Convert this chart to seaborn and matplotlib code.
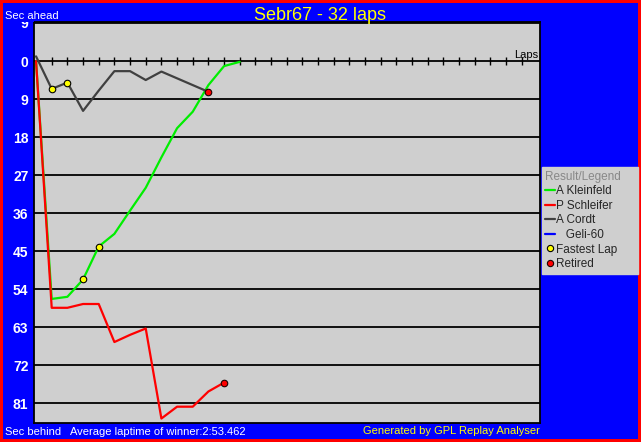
import numpy as np
import pandas as pd
import matplotlib
matplotlib.use("Agg")
import matplotlib.pyplot as plt
import seaborn as sns
from matplotlib.lines import Line2D
from matplotlib.patches import Rectangle
from matplotlib.transforms import blended_transform_factory

# ---------------- data ----------------
title = "Sebr67 - 32 laps"
drivers = ["A Kleinfeld", "P Schleifer", "A Cordt"]
colors = ["#00ee00", "#ff0000", "#404040"]
kleinfeld = [0, 56.3, 55.8, 51.7, 43.9, 40.9, 35.4, 30.0, 22.8, 15.9, 12.0, 5.7, 1.2, 0.2]
schleifer = [0, 58.4, 58.4, 57.5, 57.5, 66.5, 64.8, 63.3, 84.6, 81.8, 81.8, 78.2, 76.1]
cordt = [-1.1, 6.6, 5.1, 11.8, 7.0, 2.4, 2.4, 4.5, 2.5, 4.1, 5.7, 7.3]
fastest_driver = ["A Cordt", "A Cordt", "A Kleinfeld", "A Kleinfeld"]
fastest_lap = [1, 2, 3, 4]
retired_driver = ["A Cordt", "P Schleifer"]
retired_lap = [11, 12]
lap_ticks = list(range(1, 32))
y_ticks = [-9, 0, 9, 18, 27, 36, 45, 54, 63, 72, 81]
y_tick_labels = ["9", "0", "9", "18", "27", "36", "45", "54", "63", "72", "81"]
legend_extra = "   Geli-60"
avg_text = "Average laptime of winner:2:53.462"

series = {"A Kleinfeld": kleinfeld, "P Schleifer": schleifer, "A Cordt": cordt}
rows = []
for d in drivers:
    for lap, v in enumerate(series[d]):
        rows.append({"driver": d, "lap": lap, "sec": v})
df = pd.DataFrame(rows)
fast_df = pd.DataFrame({"driver": fastest_driver, "lap": fastest_lap})
fast_df = fast_df.merge(df, on=["driver", "lap"])
ret_df = pd.DataFrame({"driver": retired_driver, "lap": retired_lap})
ret_df = ret_df.merge(df, on=["driver", "lap"])

# ---------------- style ----------------
sns.set_style("white")
plt.rcParams["font.family"] = ["Liberation Sans", "DejaVu Sans"]

BLUE = "#0000ff"
PLOT_BG = "#cfcfcf"
W, H = 641, 442

fig = plt.figure(figsize=(W / 100, H / 100), dpi=100, facecolor=BLUE,
                 edgecolor="#ff0000", linewidth=3)
ax_top = 1 - 22 / H
ax = fig.add_axes([34 / W, 19 / H, 506 / W, 401 / H])
ax.set_facecolor(PLOT_BG)

palette = dict(zip(drivers, colors))
sns.lineplot(data=df, x="lap", y="sec", hue="driver", hue_order=drivers,
             palette=palette, estimator=None, sort=False, legend=False,
             linewidth=1.6, ax=ax, zorder=3)
sns.scatterplot(data=fast_df, x="lap", y="sec", color="#ffff00",
                edgecolor="black", linewidth=0.8, s=22, legend=False,
                ax=ax, zorder=5)
sns.scatterplot(data=ret_df, x="lap", y="sec", color="#ff0000",
                edgecolor="#200000", linewidth=0.8, s=22, legend=False,
                ax=ax, zorder=5)

ylo, yhi = 85.66, -9.23
ax.set_ylim(ylo, yhi)
ax.set_xlim(-0.13, 32.16)
ax.set_xlabel("")
ax.set_ylabel("")
ax.set_xticks([])
ax.set_yticks(y_ticks)
ax.set_yticklabels(y_tick_labels)
ax.tick_params(axis="y", length=0, pad=4, labelsize=10, labelcolor="white")
for lbl in ax.get_yticklabels():
    lbl.set_fontweight("bold")
ax.grid(axis="y", color="black", linewidth=1.3)
ax.grid(axis="x", visible=False)
ax.set_axisbelow(True)
for sp in ax.spines.values():
    sp.set_visible(True)
    sp.set_color("black")
    sp.set_linewidth(1.3)

# hide the upper half of the top "9" label (above the plot's top edge)
cover = Rectangle((3 / W, ax_top), 30.5 / W, 1 - ax_top - 3 / H,
                  transform=fig.transFigure, facecolor=BLUE,
                  edgecolor="none", zorder=2)
fig.add_artist(cover)

# lap ticks on zero line
loc0 = (ylo - 0) / (ylo - yhi)
secax = ax.secondary_xaxis(loc0)
secax.set_xticks(lap_ticks)
secax.tick_params(axis="x", direction="inout", length=6, width=1.0, color="black",
                  labelbottom=False, labeltop=False)
for sp in secax.spines.values():
    sp.set_visible(False)

ax.annotate("Laps", xy=(1, 0), xycoords=blended_transform_factory(ax.transAxes, ax.transData),
            xytext=(-1, 2), textcoords="offset points", ha="right", va="baseline",
            fontsize=8, color="black")

# texts on figure
fig.text(0.5, 1 - 20.5 / H, title, ha="center", va="baseline", fontsize=13, color="#ffff00")
fig.text(5 / W, 1 - 19.3 / H, "Sec ahead", ha="left", va="baseline", fontsize=8,
         color="white", zorder=4)
fig.text(5 / W, 1 - 435 / H, "Sec behind", ha="left", va="baseline", fontsize=8, color="white")
fig.text(70 / W, 1 - 435 / H, avg_text, ha="left", va="baseline", fontsize=8, color="white")
fig.text(540 / W, 1 - 434 / H, "Generated by GPL Replay Analyser", ha="right", va="baseline",
         fontsize=8, color="#ffff00")

# legend
handles = [Line2D([], [], color=c, linewidth=1.6) for c in colors]
labels = list(drivers)
handles.append(Line2D([], [], color="#0000ff", linewidth=1.6))
labels.append(legend_extra)
handles.append(Line2D([], [], linestyle="none", marker="o", markersize=4.5,
                      markerfacecolor="#ffff00", markeredgecolor="black", markeredgewidth=0.8))
labels.append("Fastest Lap")
handles.append(Line2D([], [], linestyle="none", marker="o", markersize=4.5,
                      markerfacecolor="#ff0000", markeredgecolor="#200000", markeredgewidth=0.8))
labels.append("Retired")
leg = fig.legend(handles, labels, title="Result/Legend", loc="upper left",
                 bbox_to_anchor=(541.7 / W, 1 - 275 / H, 96.3 / W, 108 / H),
                 mode="expand", borderaxespad=0, fontsize=8.5, title_fontsize=8.5,
                 frameon=True, fancybox=False, facecolor=PLOT_BG, edgecolor=PLOT_BG,
                 framealpha=1, handlelength=0.8, handletextpad=0.15, labelspacing=0.22,
                 borderpad=0.3, alignment="left")
leg.get_title().set_color("#888888")
leg.set_zorder(5)

fig.savefig("out.png", dpi=100, facecolor=fig.get_facecolor(), edgecolor=fig.get_edgecolor())
